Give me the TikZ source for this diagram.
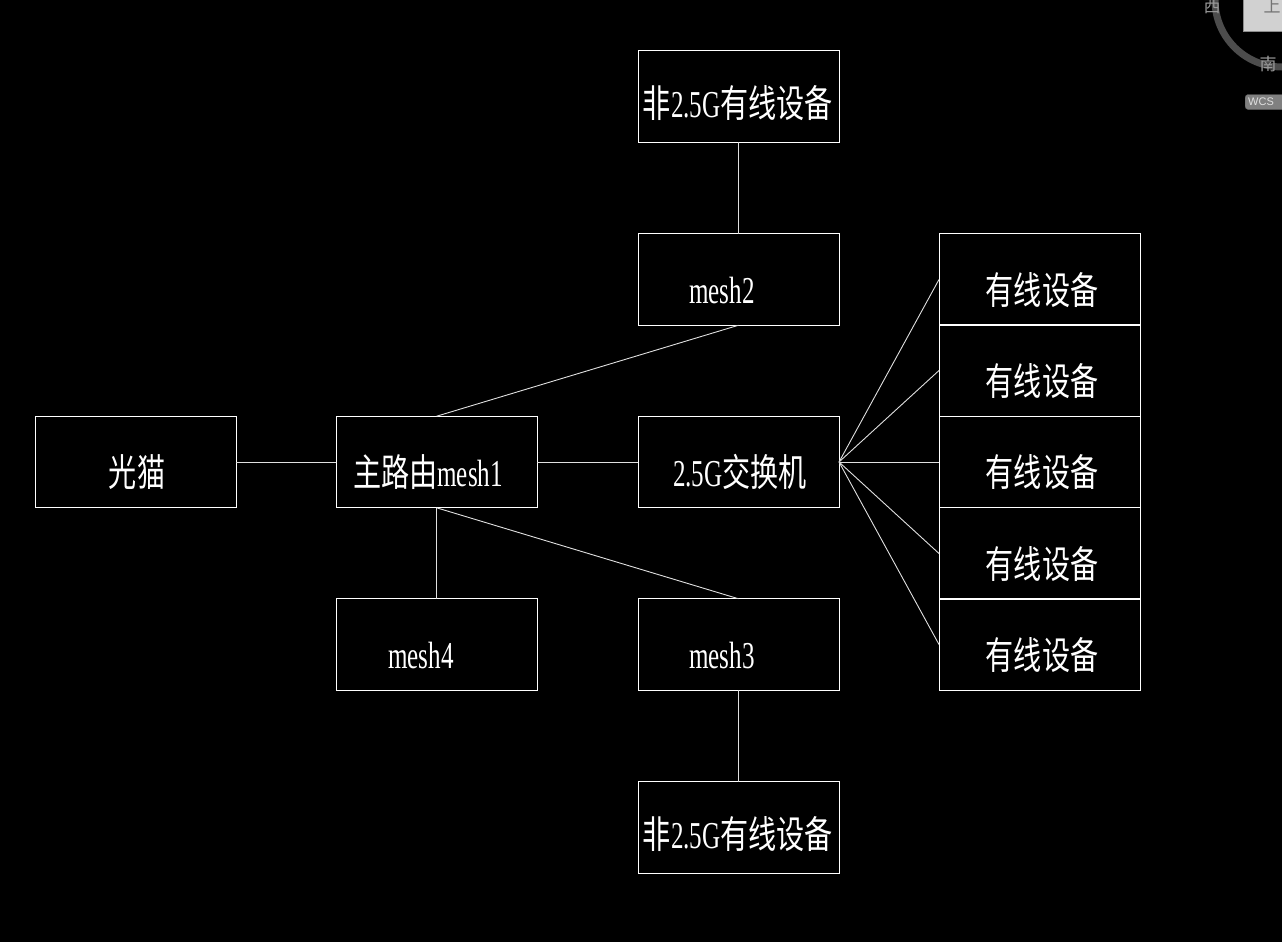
\documentclass[tikz,border=0pt]{standalone}
\usepackage{fontspec}
\newfontfamily\cjk[FakeStretch=0.74]{Noto Sans CJK SC}
\newfontfamily\lat[FakeStretch=0.66]{Liberation Serif}
\newfontfamily\uifont{Noto Sans CJK SC}
\newfontfamily\uisans{Liberation Sans}
\begin{document}
\begin{tikzpicture}[x=1pt,y=-1pt,
  box/.style={draw=white,line width=0.9pt,minimum width=201pt,minimum height=91.5pt,inner sep=0pt,outer sep=0pt},
  lbl/.style={text=white,inner sep=0pt,anchor=base,font=\fontsize{38}{40}\selectfont},
  wire/.style={draw=white!88!black,line width=0.9pt}]
\useasboundingbox (0,0) rectangle (1282,942);
\fill[black] (0,0) rectangle (1282,942);
% boxes
\node[box] (gm) at (135.5,462) {};
\node[box] (m1) at (436.5,462) {};
\node[box] (sw) at (738.5,462) {};
\node[box] (m2) at (738.5,279.5) {};
\node[box] (nt) at (738.5,96.5) {};
\node[box] (m4) at (436.5,644.5) {};
\node[box] (m3) at (738.5,644.5) {};
\node[box] (nb) at (738.5,827.5) {};
\node[box] (d1) at (1039.5,279.5) {};
\node[box] (d2) at (1039.5,370.5) {};
\node[box] (d3) at (1039.5,462) {};
\node[box] (d4) at (1039.5,553.5) {};
\node[box] (d5) at (1039.5,644.5) {};
% labels
\node[lbl] (tgm) at (137,486) {\cjk 光猫};
\node[lbl] (tm1) at (428,486) {\cjk 主路由\lat mesh1};
\node[lbl] (tsw) at (740,486) {\lat 2.5G\cjk 交换机};
\node[lbl] (tm2) at (722,303) {\lat mesh2};
\node[lbl] (tnt) at (738,117) {\cjk 非\lat 2.5G\cjk 有线设备};
\node[lbl] (tm4) at (421,668) {\lat mesh4};
\node[lbl] (tm3) at (722,668) {\lat mesh3};
\node[lbl] (tnb) at (738,848) {\cjk 非\lat 2.5G\cjk 有线设备};
\node[lbl] (td1) at (1042,304) {\cjk 有线设备};
\node[lbl] (td2) at (1042,395) {\cjk 有线设备};
\node[lbl] (td3) at (1042,486) {\cjk 有线设备};
\node[lbl] (td4) at (1042,578) {\cjk 有线设备};
\node[lbl] (td5) at (1042,669) {\cjk 有线设备};
% connectors
\draw[wire] (gm.east) -- (m1.west);
\draw[wire] (m1.east) -- (sw.west);
\draw[wire] (m1.north) -- (m2.south);
\draw[wire] (m1.south) -- (m4.north);
\draw[wire] (m1.south) -- (m3.north);
\draw[wire] (m2.north) -- (nt.south);
\draw[wire] (m3.south) -- (nb.north);
\foreach \d in {d1,d2,d3,d4,d5} \draw[wire] (sw.east) -- (\d.west);
% view cube widget (top right)
\draw[line width=7pt,color=black!70] (1282,0) circle[radius=67];
\fill[black!18] (1243,-2) rectangle (1290,31);
\draw[black!45,line width=0.8pt] (1243,-2) rectangle (1290,31);
\node[text=black!55,font=\uifont\fontsize{17}{18}\selectfont,inner sep=0pt] (up) at (1272,6) {上};
\node[text=black!40,font=\uifont\fontsize{17}{18}\selectfont,inner sep=0pt] (west) at (1212,7) {西};
\node[text=black!40,font=\uifont\fontsize{17}{18}\selectfont,inner sep=0pt] (south) at (1268,64) {南};
\node[fill=black!50,draw=black!62,rounded corners=3pt,minimum width=42pt,minimum height=15pt,inner sep=0pt,anchor=west] (wcs) at (1245,102) {};
\node[text=black!12,font=\uisans\fontsize{11}{12}\selectfont,inner sep=0pt,anchor=west] (wcst) at (1248,102) {WCS};
\end{tikzpicture}
\end{document}
